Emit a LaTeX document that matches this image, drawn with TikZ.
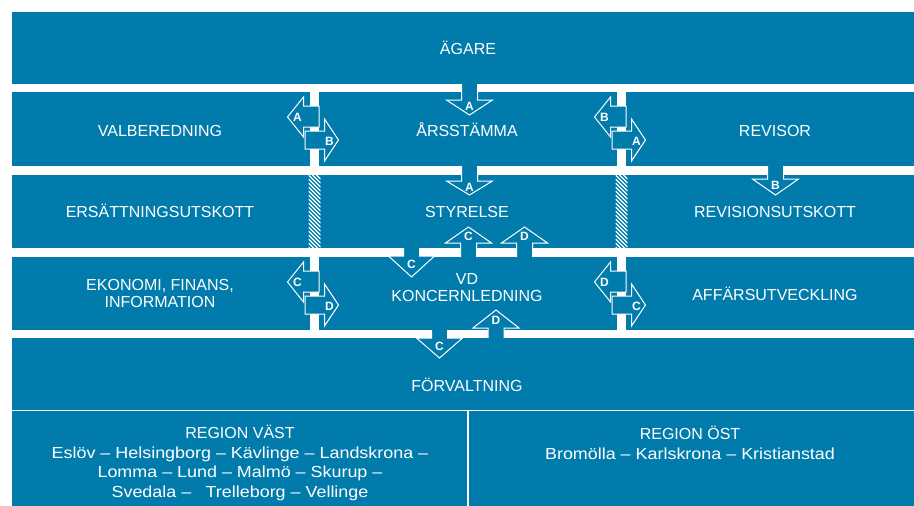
\documentclass[tikz,border=0pt]{standalone}
\usepackage{fontspec}
\setmainfont{Liberation Sans}
\newfontfamily\townfont[FakeStretch=1.12]{Liberation Sans}
\definecolor{bandblue}{RGB}{0,123,172}

% arrow through a gap: x, open end, head base, tip, name, letter
\newcommand{\gaparrow}[6]{%
  \fill[bandblue] (#1-8,#2) -- (#1-8,#3) -- (#1-23,#3) -- (#1,#4) -- (#1+23,#3) -- (#1+8,#3) -- (#1+8,#2) -- cycle;
  \draw[outline] (#1-8,#2) -- (#1-8,#3) -- (#1-23,#3) -- (#1,#4) -- (#1+23,#3) -- (#1+8,#3) -- (#1+8,#2);
  \node[arrowletter] (#5) at (#1,{#3+0.42*(#4-#3)}) {#6};
}
% pair of side arrows on a bar: bar x, band top, left name, left letter, right name, right letter
\newcommand{\sidearrows}[6]{%
  \filldraw[outline,fill=bandblue] (#1+4.5,#2+14) -- (#1-11,#2+14) -- (#1-11,#2+5) -- (#1-27,#2+25)
    -- (#1-11,#2+45) -- (#1-11,#2+35) -- (#1+4.5,#2+35) -- cycle;
  \node[arrowletter] (#3) at (#1-17,#2+25.5) {#4};
  \filldraw[outline,fill=bandblue] (#1-9.5,#2+39) -- (#1+10,#2+39) -- (#1+10,#2+27) -- (#1+24,#2+48)
    -- (#1+10,#2+69) -- (#1+10,#2+57) -- (#1-9.5,#2+57) -- cycle;
  \node[arrowletter] (#5) at (#1+15,#2+49) {#6};
}

\begin{document}
\begin{tikzpicture}[x=1pt,y=-1pt,line join=miter]
  \tikzstyle{outline}=[draw=white,line width=1pt]
  \tikzstyle{arrowletter}=[text=white,font=\fontsize{12}{13}\selectfont\bfseries,inner sep=0pt]
  \tikzstyle{bandtext}=[text=white,font=\fontsize{16}{17}\selectfont,inner sep=0pt,align=center]
  \tikzstyle{hatch}=[white,line width=1.2pt]

  \useasboundingbox (0,0) rectangle (914,506);

  % bands
  \foreach \top/\bot in {12/84,92/166,175/248,257/330,338/506}
    \fill[bandblue] (12,\top) rectangle (914,\bot);
  \draw[white,line width=1.5pt] (12,410.5) -- (914,410.5);
  \draw[white,line width=2pt] (468,410.5) -- (468,506);

  % bars between the columns
  \foreach \bx in {314.5,621.5} {
    \fill[white] (\bx-4.5,84) rectangle (\bx+4.5,175);
    \fill[white] (\bx-4.5,248) rectangle (\bx+4.5,338);
    \begin{scope}
      \clip (\bx-6,175) rectangle (\bx+6,248);
      \foreach \k in {155,159,...,250}
        \draw[hatch] (\bx-6,\k) -- (\bx+6,\k+12);
    \end{scope}
  }

  % texts
  \node[bandtext,anchor=base] (agare) at (468,54.5) {ÄGARE};
  \node[bandtext,anchor=base] (valberedning) at (160,136) {VALBEREDNING};
  \node[bandtext,anchor=base] (arsstamma) at (467,136) {ÅRSSTÄMMA};
  \node[bandtext,anchor=base] (revisor) at (775,136) {REVISOR};
  \node[bandtext,anchor=base] (ersattning) at (160,217) {ERSÄTTNINGSUTSKOTT};
  \node[bandtext,anchor=base] (styrelse) at (467,217) {STYRELSE};
  \node[bandtext,anchor=base] (revisionsutskott) at (775,217) {REVISIONSUTSKOTT};
  \node[bandtext] (ekonomi) at (160,293) {EKONOMI, FINANS,\\INFORMATION};
  \node[bandtext] (vd) at (467,288) {VD\\KONCERNLEDNING};
  \node[bandtext,anchor=base] (affarsutveckling) at (775,300) {AFFÄRSUTVECKLING};
  \node[bandtext,anchor=base] (forvaltning) at (467,391) {FÖRVALTNING};
  \node[bandtext,font=\fontsize{16}{19.7}\selectfont] (vast) at (240,463)
    {REGION VÄST\\\townfont Eslöv – Helsingborg – Kävlinge – Landskrona –\\\townfont Lomma – Lund – Malmö – Skurup –\\\townfont Svedala –\hspace{0.9em}Trelleborg – Vellinge};
  \node[bandtext,font=\fontsize{16}{19.7}\selectfont] (ost) at (690,443)
    {REGION ÖST\\\townfont Bromölla – Karlskrona – Kristianstad};

  % arrows through the gaps
  \gaparrow{469.5}{84}{100}{115}{aA}{A}
  \gaparrow{469.5}{166}{181}{195}{sA}{A}
  \gaparrow{775.5}{166}{179}{195}{rB}{B}
  \gaparrow{411.5}{248}{256}{277}{vC}{C}
  \gaparrow{468.5}{257}{243}{227}{uC}{C}
  \gaparrow{524.5}{257}{243}{227}{uD}{D}
  \gaparrow{439.5}{330}{338}{358}{fC}{C}
  \gaparrow{496}{338}{328}{310}{fD}{D}

  % side arrows
  \sidearrows{314.5}{92}{valA}{A}{valB}{B}
  \sidearrows{621.5}{92}{revB}{B}{revA}{A}
  \sidearrows{314.5}{257}{ekoC}{C}{ekoD}{D}
  \sidearrows{621.5}{257}{affD}{D}{affC}{C}
\end{tikzpicture}
\end{document}
